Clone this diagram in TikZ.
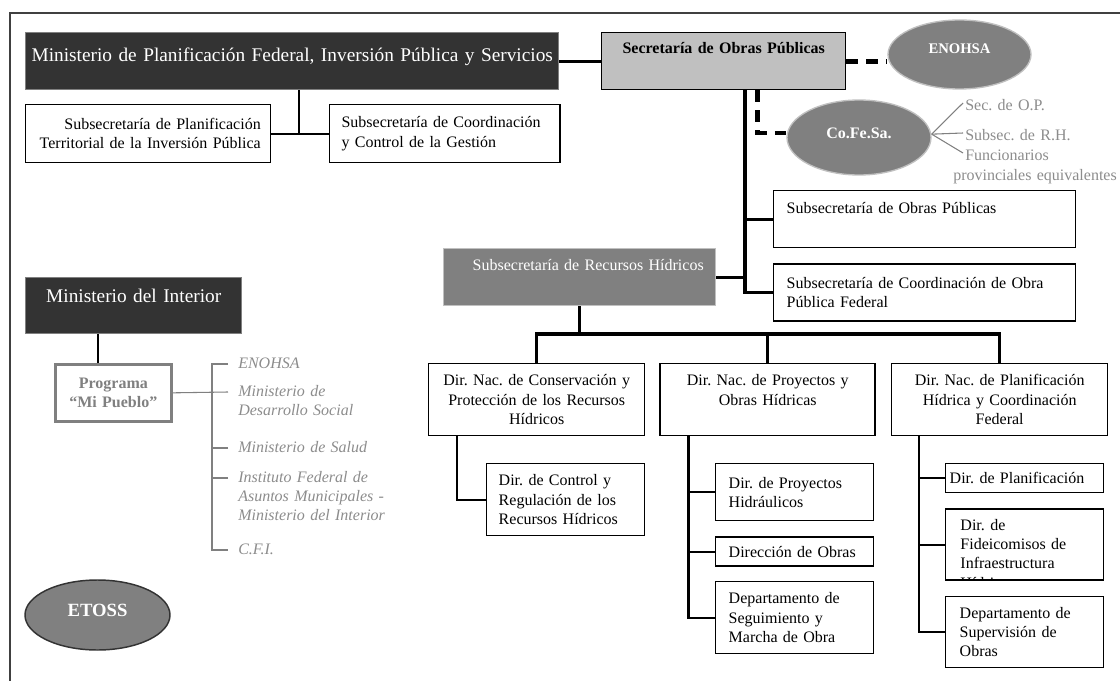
\documentclass[tikz,border=0pt,12pt]{standalone}
\usepackage{fontspec}
\setmainfont{Liberation Serif}
\usetikzlibrary{positioning,shapes.geometric}
\definecolor{cDark}{HTML}{333333}
\definecolor{cMid}{HTML}{808080}
\definecolor{cLight}{HTML}{C0C0C0}
\definecolor{cText}{HTML}{8C8C8C}
\definecolor{cFrame}{HTML}{404040}
\newcommand{\up}[2]{\raisebox{#1}[\height][\depth]{#2}}
\AtBeginDocument{\frenchspacing}

\begin{document}
\begin{tikzpicture}[x=0.75pt,y=-0.75pt]
  \tikzset{
    ubox/.style n args={3}{minimum width=#1*0.75pt, minimum height=#2*0.75pt,
      inner xsep=#3*0.75pt, text width={(#1-2*#3)*0.75pt}},
    wbox/.style={draw, line width=1.1pt, fill=white, anchor=north west,
      inner ysep=0pt, align=left},
    darkbox/.style={wbox, draw=cMid, fill=cDark, text=white, align=center,
      font=\fontsize{14.5pt}{17pt}\selectfont},
    ovalbox/.style={ellipse, draw=cLight, line width=1pt, fill=cMid,
      inner sep=0pt, text=white, font=\bfseries},
    trunk/.style={line width=2.4pt},
    branch/.style={line width=1.6pt},
    dashlink/.style={line width=3.5pt, dash pattern=on 9pt off 6pt},
    graylink/.style={cMid, line width=0.8pt},
    fanlab/.style={anchor=base west, inner xsep=1.5pt, text=cText, text width=130pt, align=left},
    itlab/.style={anchor=base west, inner xsep=7.5pt, text width=120pt, align=left,
      text=cText, font=\itshape}
  }
  \useasboundingbox (0,0) rectangle (1120,681);
  \draw[cFrame, line width=1.5pt] (10,681) -- (10,12.7) -- (1120,12.7);

  \node[darkbox, ubox={533}{57}{4}] (minp) at (25,32)
    {\up{3pt}{Ministerio de Planificación Federal, Inversión Pública y Servicios}};
  \node[wbox, ubox={245}{58}{10}, align=right] (subplan) at (25,104)
    {Subsecretaría de Planificación\\Territorial de la Inversión Pública};
  \node[wbox, ubox={230.5}{58}{12}, right=43pt of subplan.north east, anchor=north west] (subcoord)
    {Subsecretaría de Coordinación\\y Control de la Gestión};
  \node[wbox, ubox={244}{57}{6}, fill=cLight, align=center, font=\bfseries] (sop) at (601,32)
    {\up{9.75pt}{Secretaría de Obras Públicas}};
  \node[ovalbox, minimum width=107.25pt, minimum height=51.75pt,
    font=\fontsize{11pt}{13pt}\selectfont\bfseries] (enohsa) at (959.5,54.5) {\up{4.5pt}{ENOHSA}};
  \node[ovalbox, minimum width=108pt, minimum height=56.25pt] (cofesa) at (859,137.5) {\up{3.4pt}{Co.Fe.Sa.}};

  \node[fanlab] (opf) at (963,111) {Sec. de O.P.};
  \node[fanlab] (rhf) at (963,141) {Subsec. de R.H.};
  \node[fanlab] (func) at (963,161) {Funcionarios\\\hspace*{-9pt}provinciales equivalentes};
  \foreach \n in {opf,rhf,func}
    \draw[graylink] ([yshift=2.5pt]cofesa.east) -- ([yshift=6pt]\n.base west);

  \node[wbox, ubox={302}{57}{13}] (subop) at (773,190)
    {\up{8.6pt}{Subsecretaría de Obras Públicas}};
  \node[wbox, ubox={302}{57}{13}, below=11.25pt of subop.south west, anchor=north west] (subcop)
    {Subsecretaría de Coordinación de Obra\\Pública Federal};
  \node[wbox, ubox={272}{57}{12}, draw=cLight, fill=cMid, text=white, align=right] (subrh) at (443,248)
    {\up{9.4pt}{Subsecretaría de Recursos Hídricos}};

  \coordinate (mj) at (299,133);
  \draw[branch] (subplan.east) -- (subcoord.west);
  \draw[branch] (mj |- minp.south) -- (mj);
  \coordinate (sp) at (745,0);
  \draw[trunk] (minp.east) -- (sop.west);
  \draw[trunk] (sp |- sop.south) -- (sp |- subcop.west) -- (subcop.west);
  \draw[trunk] (sp |- subop.west) -- (subop.west);
  \draw[trunk] (subrh.east) -- (sp |- subrh.east);
  \draw[dashlink] (sop.east) -- (sop.east -| enohsa.west);
  \coordinate (dj) at (757.5,133);
  \draw[dashlink] (dj |- sop.south) -- (dj) -- (dj -| cofesa.west);

  \node[wbox, ubox={216}{72}{8}, align=center] (dnc) at (428,363)
    {Dir. Nac. de Conservación y\\Protección de los Recursos\\Hídricos};
  \node[wbox, ubox={215}{72}{8}, align=center, right=10.5pt of dnc.north east, anchor=north west] (dnp)
    {Dir. Nac. de Proyectos y\\Obras Hídricas\\\mbox{}};
  \node[wbox, ubox={216}{72}{8}, align=center, right=11.25pt of dnp.north east, anchor=north west] (dnpl)
    {Dir. Nac. de Planificación\\Hídrica y Coordinación\\Federal};
  \coordinate (bus) at (0,334);
  \draw[trunk] (subrh.south) -- (subrh.south |- bus);
  \draw[trunk] (dnc.north) -- (dnc.north |- bus) -- (dnpl.north |- bus) -- (dnpl.north);
  \draw[trunk] (dnp.north) -- (dnp.north |- bus);

  \node[wbox, ubox={158}{72}{12}] (dirctl) at (486,463)
    {Dir. de Control y\\Regulación de los\\Recursos Hídricos};
  \node[wbox, ubox={158}{57}{13}] (dproyh) at (715,463) {Dir. de Proyectos\\Hidráulicos};
  \node[wbox, ubox={158}{29}{13}, below=11.25pt of dproyh.south west, anchor=north west] (dobras)
    {Dirección de Obras};
  \node[wbox, ubox={158}{72}{13}, below=10.5pt of dobras.south west, anchor=north west] (dseg)
    {Departamento de\\Seguimiento y\\Marcha de Obra};
  \node[wbox, ubox={158}{29}{4}] (dplan) at (945,463) {Dir. de Planificación};
  \node[wbox, ubox={158}{71}{14}, below=11.25pt of dplan.south west, anchor=north west,
    path picture={\node[draw=none, fill=none, anchor=north west, inner sep=0pt,
      minimum width=0pt, minimum height=0pt, text width=100pt, align=left, text=black]
      at ([shift={(14,9)}]path picture bounding box.north west)
      {Dir. de\\Fideicomisos de\\Infraestructura\\Hídrica};}] (fid) {};
  \node[wbox, ubox={158}{71}{14}, below=11.25pt of fid.south west, anchor=north west] (dsup)
    {Departamento de\\Supervisión de\\Obras};

  \draw[branch] ([shift={(29,0)}]dnc.south west) |- (dirctl.west);
  \draw[branch] ([shift={(29,0)}]dnp.south west) coordinate (pj) |- (dseg.west);
  \foreach \n in {dproyh,dobras}
    \draw[branch] (pj |- \n.west) -- (\n.west);
  \draw[branch] ([shift={(28,0)}]dnpl.south west) coordinate (plj) |- (dsup.west);
  \foreach \n in {dplan,fid}
    \draw[branch] (plj |- \n.west) -- (\n.west);

  \node[darkbox, ubox={216}{56}{4}] (minint) at (25,277) {\up{7.5pt}{Ministerio del Interior}};
  \node[wbox, ubox={116}{57}{6}, draw=cMid, line width=2pt, align=center, text=cMid,
    font=\bfseries] (prog) at (54,363) {Programa\\“Mi Pueblo”};
  \coordinate (pgj) at ([shift={(44,0)}]prog.north west);
  \draw[line width=1pt] (pgj) -- (pgj |- minint.south);

  \node[itlab] (l1) at (228,368) {ENOHSA};
  \node[itlab] (l2) at (228,396) {Ministerio de\\Desarrollo Social};
  \node[itlab] (l3) at (228,452) {Ministerio de Salud};
  \node[itlab] (l4) at (228,482) {Instituto Federal de\\Asuntos Municipales -\\Ministerio del Interior};
  \node[itlab] (l5) at (228,554) {C.F.I.};
  \draw[graylink] ([yshift=3pt]l1.base west) -- ++(-16,0) |- ([yshift=3pt]l5.base west);
  \foreach \n in {l3,l4}
    \draw[graylink] ([yshift=3pt]\n.base west) -- ++(-16,0);
  \draw[graylink] (prog.east) -- ([yshift=3pt]l2.base west);

  \node[ovalbox, draw=cDark, line width=1.1pt, minimum width=108.75pt, minimum height=52.5pt,
    font=\fontsize{14pt}{17pt}\selectfont\bfseries] (etoss) at (97.5,615) {\up{3.75pt}{ETOSS}};
\end{tikzpicture}
\end{document}
